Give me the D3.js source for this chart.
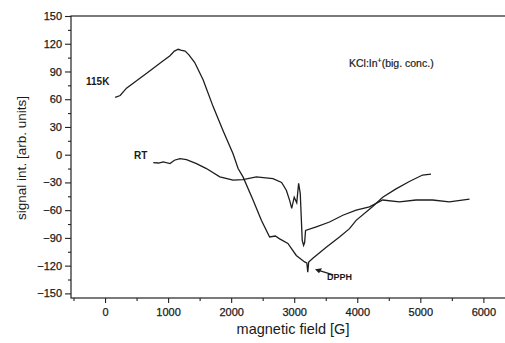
<!DOCTYPE html>
<html>
<head>
<meta charset="utf-8">
<script src="https://cdn.jsdelivr.net/npm/d3@7"></script>
<style>
  body { margin: 0; background: #fff; }
  text { font-family: "Liberation Sans", Arial, sans-serif; fill: #1a1a1a; }
</style>
</head>
<body>
<svg width="505" height="343"></svg>
<script>
// data (field in G, signal in arb. units)
var field115K = [160, 240, 340, 500, 660, 870, 1030, 1100, 1160, 1200, 1270, 1330, 1420, 1555, 1714, 1872, 2030, 2110, 2188,
                 2347, 2479, 2610, 2700, 2769, 2900, 3033, 3165, 3200, 3215, 3230, 3296, 3508, 3718, 3877, 3982,
                 4245, 4404, 4615, 4826, 5036, 5169];
var signal115K = [62, 64, 72, 80, 88, 99, 107, 112, 114, 113, 112, 108, 100, 81, 52, 26, 1, -15, -24,
                  -49, -71, -89, -88, -91, -96, -109, -116, -117, -127, -116, -112, -100, -89, -80, -71,
                  -56, -46, -37, -29, -22, -21];

var fieldRT = [765, 850, 923, 1030, 1100, 1187, 1292, 1450, 1608, 1820, 2030, 2188, 2400, 2550, 2663, 2800, 2875,
               2930, 2960, 3000, 3040, 3070, 3096, 3127, 3149, 3165, 3180, 3350, 3560, 3771, 3982, 4193, 4404,
               4668, 4932, 5195, 5459, 5780];
var signalRT = [-8.5, -9, -7.8, -9.6, -6, -4.2, -5.3, -9.6, -15, -24, -27.6, -26.9, -24, -25, -25.8, -30, -38.5,
                -50, -58, -46, -52, -31, -42, -92.6, -98, -95, -82, -78, -72.8, -65.5, -60, -56.5, -49,
                -51, -49, -49, -51, -48];

var xTicks = [0, 1000, 2000, 3000, 4000, 5000, 6000];
var yTicks = [-150, -120, -90, -60, -30, 0, 30, 60, 90, 120, 150];

// set the ranges (right edge of the frame is cut off in the scan)
var x = d3.scaleLinear().domain([-540, 6500]).range([71, 514.9]);
var y = d3.scaleLinear().domain([-155, 150]).range([298, 16]);

var svg = d3.select("svg");

// frame
svg.append("rect")
    .attr("x", x(-540)).attr("y", y(150))
    .attr("width", x(6500) - x(-540)).attr("height", y(-155) - y(150))
    .attr("fill", "none").attr("stroke", "#222").attr("stroke-width", 1.2);

// x axis, major + minor
svg.append("g")
    .attr("transform", "translate(0," + y(-155) + ")")
    .call(d3.axisBottom(x).tickValues(xTicks).tickSize(5).tickPadding(5).tickFormat(d3.format("d")));
svg.append("g")
    .attr("transform", "translate(0," + y(-155) + ")")
    .call(d3.axisBottom(x).tickValues(d3.range(-500, 6501, 1000)).tickSize(3).tickFormat(""));

// y axis, major + minor
svg.append("g")
    .attr("transform", "translate(" + x(-540) + ",0)")
    .call(d3.axisLeft(y).tickValues(yTicks).tickSize(6).tickPadding(3));
svg.append("g")
    .attr("transform", "translate(" + x(-540) + ",0)")
    .call(d3.axisLeft(y).tickValues(d3.range(-135, 150, 30)).tickSize(3).tickFormat(""));

svg.selectAll(".domain").remove();
svg.selectAll(".tick line").attr("stroke", "#222").attr("stroke-width", 1.1);
svg.selectAll(".tick text")
    .style("font-family", "'Liberation Sans', Arial, sans-serif")
    .style("font-size", "11px")
    .attr("fill", "#1a1a1a")
    .attr("stroke", "#1a1a1a").attr("stroke-width", 0.25);

// axis titles
svg.append("text")
    .attr("x", 293).attr("y", 334)
    .attr("text-anchor", "middle")
    .style("font-size", "14.5px")
    .text("magnetic field [G]");

svg.append("text")
    .attr("transform", "translate(26,158) rotate(-90)")
    .attr("text-anchor", "middle")
    .style("font-size", "13.5px")
    .text("signal int. [arb. units]");

// curves
var line = d3.line()
    .x(function(d) { return x(d[0]); })
    .y(function(d) { return y(d[1]); });

svg.append("path")
    .datum(d3.zip(field115K, signal115K))
    .attr("d", line)
    .attr("fill", "none").attr("stroke", "#1e1e1e").attr("stroke-width", 1.3);

svg.append("path")
    .datum(d3.zip(fieldRT, signalRT))
    .attr("d", line)
    .attr("fill", "none").attr("stroke", "#1e1e1e").attr("stroke-width", 1.3);

// labels
svg.append("text").attr("x", 86).attr("y", 85)
    .style("font-size", "10px").style("font-weight", "bold").text("115K");
svg.append("text").attr("x", 134).attr("y", 159)
    .style("font-size", "10px").style("font-weight", "bold").text("RT");

var title = svg.append("text").attr("x", 349).attr("y", 67)
    .style("font-size", "10.5px").attr("stroke", "#1a1a1a").attr("stroke-width", 0.2);
title.append("tspan").text("KCl:In");
title.append("tspan").attr("dy", -4).style("font-size", "7px").text("+");
title.append("tspan").attr("dy", 4).text("(big. conc.)");

// DPPH marker
svg.append("line")
    .attr("x1", x(3620)).attr("y1", y(-130))
    .attr("x2", x(3400)).attr("y2", y(-125.5))
    .attr("stroke", "#1e1e1e").attr("stroke-width", 1.3);
svg.append("path")
    .attr("d", "M" + x(3330) + "," + y(-124) + " l7,-1 l-3,5 z")
    .attr("fill", "#1e1e1e");
svg.append("text").attr("x", x(3520)).attr("y", y(-135))
    .style("font-size", "9px").style("font-weight", "bold").text("DPPH");
</script>
</body>
</html>
